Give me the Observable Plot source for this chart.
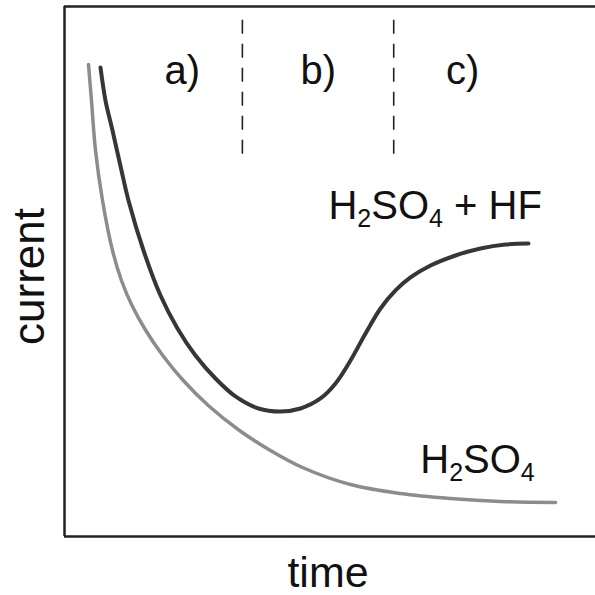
<!DOCTYPE html>
<html>
<head>
<meta charset="utf-8">
<script src="https://cdn.jsdelivr.net/npm/d3@7"></script>
<script src="https://cdn.jsdelivr.net/npm/@observablehq/plot@0.6"></script>
<style>
  html, body { margin: 0; padding: 0; background: #fff; }
  svg { display: block; }
</style>
</head>
<body>
<div id="chart"></div>
<script>
// Arbitrary units (time, current), frame spans 0–100
const h2so4Time    = [4.52, 5.08, 5.84, 7.16, 9.04, 10.73, 12.71, 15.31, 18.51, 22.37, 27.08, 32.96, 38.79, 44.82, 53.86, 63.28, 72.69, 82.11, 92.47];
const h2so4Current = [89.06, 82.26, 72.83, 63.40, 53.96, 48.30, 43.58, 38.87, 34.15, 29.43, 24.72, 20.00, 16.23, 13.02, 9.81, 8.11, 7.17, 6.60, 6.42];

const hfTime    = [6.78, 7.72, 9.04, 10.73, 12.05, 14.88, 18.08, 21.28, 24.67, 28.44, 32.20, 36.53, 40.68, 44.44, 48.21, 51.04, 53.86, 56.69, 59.51, 62.34, 65.16, 68.93, 73.63, 78.34, 83.05, 87.38];
const hfCurrent = [88.49, 82.26, 76.60, 69.06, 63.40, 53.96, 45.47, 39.25, 34.15, 29.81, 26.42, 24.15, 23.58, 24.15, 26.04, 28.87, 33.21, 38.30, 43.02, 46.42, 48.87, 51.13, 53.02, 54.34, 55.09, 55.28];

const dividers = [33.5, 62.0];
const dividerTop = 97.4, dividerBottom = 71.9;

const phaseLabels = ["a)", "b)", "c)"];
const phaseX = [22.2, 47.8, 75.0];
const phaseY = 85.3;

const seriesLabels = ["H2SO4 + HF", "H2SO4"];
const seriesLabelX = [49.7, 67.0];
const seriesLabelY = [60.0, 11.9];

const h2so4 = h2so4Time.map((t, i) => ({t, c: h2so4Current[i]}));
const hf = hfTime.map((t, i) => ({t, c: hfCurrent[i]}));
const phases = phaseLabels.map((s, i) => ({s, x: phaseX[i], y: phaseY}));
const series = seriesLabels.map((s, i) => ({s, x: seriesLabelX[i], y: seriesLabelY[i]}));

const font = "Liberation Sans, Arial, Helvetica, sans-serif";

const chart = Plot.plot({
  width: 595,
  height: 595,
  marginLeft: 64,
  marginRight: 0,
  marginTop: 6,
  marginBottom: 59,
  style: {fontFamily: font, background: "#fff"},
  x: {domain: [0, 100], axis: null},
  y: {domain: [0, 100], axis: null},
  marks: [
    Plot.ruleX([0], {stroke: "#222", strokeWidth: 2.5}),
    Plot.ruleY([0, 100], {stroke: "#222", strokeWidth: 2.5}),
    Plot.ruleX(dividers, {x: d => d, y1: dividerTop, y2: dividerBottom, stroke: "#222", strokeWidth: 1.6, strokeDasharray: "14,10"}),
    Plot.line(h2so4, {x: "t", y: "c", curve: "catmull-rom", stroke: "#8c8c8c", strokeWidth: 3.5}),
    Plot.line(hf, {x: "t", y: "c", curve: "catmull-rom", stroke: "#363636", strokeWidth: 4}),
    Plot.text(phases, {x: "x", y: "y", text: "s", fontSize: 40, fill: "#111", lineAnchor: "bottom", textAnchor: "middle"}),
    Plot.text(series, {x: "x", y: "y", text: "s", fontSize: 40, fill: "#111", lineAnchor: "bottom", textAnchor: "start", className: "chem"}),
    Plot.text(["time"], {frameAnchor: "bottom", text: d => d, fontSize: 43, fill: "#111", lineAnchor: "bottom", textAnchor: "middle", dx: -2, dy: 50}),
    Plot.text(["current"], {frameAnchor: "left", text: d => d, fontSize: 44, fill: "#111", lineAnchor: "bottom", textAnchor: "middle", rotate: -90, dx: -21, dy: 5})
  ]
});

// Subscripts for chemical formulas
d3.select(chart).selectAll("g.chem text").each(function() {
  const el = d3.select(this);
  const s = el.text();
  el.text(null);
  const parts = s.split(/(\d)/).filter(p => p !== "");
  let lowered = false;
  parts.forEach(p => {
    if (/^\d$/.test(p)) {
      el.append("tspan").attr("font-size", 25).attr("dy", 8).text(p);
      lowered = true;
    } else {
      const ts = el.append("tspan").text(p);
      if (lowered) { ts.attr("dy", -8); lowered = false; }
    }
  });
});

document.getElementById("chart").appendChild(chart);
</script>
</body>
</html>
